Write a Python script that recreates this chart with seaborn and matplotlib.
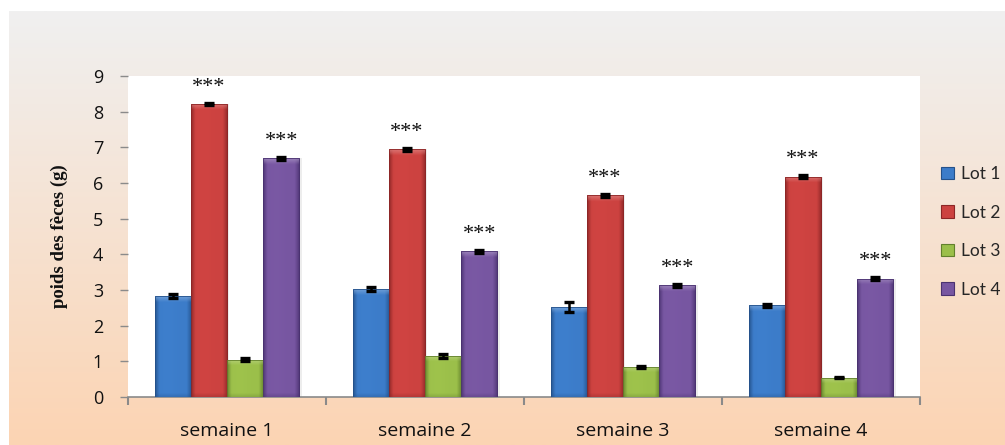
import numpy as np
import pandas as pd
import matplotlib
matplotlib.use("Agg")
import matplotlib.pyplot as plt
from matplotlib.patches import Patch, Rectangle
from matplotlib.colors import to_rgb
import seaborn as sns

# ---- data ----
weeks = ["semaine 1", "semaine 2", "semaine 3", "semaine 4"]
lots = ["Lot 1", "Lot 2", "Lot 3", "Lot 4"]
lot1 = [2.83, 3.02, 2.52, 2.57]
lot2 = [8.22, 6.94, 5.65, 6.18]
lot3 = [1.04, 1.15, 0.85, 0.54]
lot4 = [6.69, 4.08, 3.13, 3.32]
err1 = [0.05, 0.06, 0.13, 0.05]
err2 = [0.03, 0.04, 0.04, 0.05]
err3 = [0.04, 0.05, 0.03, 0.02]
err4 = [0.04, 0.04, 0.04, 0.04]
# significance marks per lot (same for every week)
signif = {"Lot 1": "", "Lot 2": "***", "Lot 3": "", "Lot 4": "***"}
yticks = list(range(0, 10))

values = [lot1, lot2, lot3, lot4]
errors = [err1, err2, err3, err4]

df = pd.DataFrame({
    "semaine": np.tile(weeks, len(lots)),
    "lot": np.repeat(lots, len(weeks)),
    "poids": np.concatenate(values),
})

mid_cols = ["#3c7cc9", "#cc4240", "#9bbf4a", "#7756a1"]
dark_cols = ["#24518a", "#8c2626", "#62802c", "#4a3270"]

sns.set_theme(style="white")
plt.rcParams["font.family"] = ["Open Sans", "DejaVu Sans"]

W, H = 1005, 445
fig = plt.figure(figsize=(W / 100, H / 100), dpi=100)
fig.patch.set_facecolor("white")

# gradient backdrop (grey at top fading to peach at bottom)
bg = fig.add_axes([9 / W, 0, 1 - 9 / W, (H - 11) / H], zorder=-10)
top = np.array(to_rgb("#f0f0f0"))
bot = np.array(to_rgb("#fcd4b3"))
t = np.linspace(0, 1, 256)[:, None]
grad = (top[None, :] * (1 - t) + bot[None, :] * t)[:, None, :]
bg.imshow(grad, aspect="auto", extent=[0, 1, 0, 1], interpolation="bilinear")
bg.set_axis_off()

L, R, T, B = 128, 920, 76, 397
ax = fig.add_axes([L / W, (H - B) / H, (R - L) / W, (B - T) / H])
ax.set_facecolor("white")

sns.barplot(data=df, x="semaine", y="poids", hue="lot", order=weeks,
            hue_order=lots, palette=mid_cols, width=0.73, errorbar=None,
            saturation=1, legend=False, ax=ax, edgecolor="none", zorder=2)

containers = list(ax.containers)
ax.set_xlim(-0.5, len(weeks) - 0.5)
ax.set_ylim(0, 9)


# shaded, bevelled bar faces
def bar_image(mid, dark, h_data, px_per_unit_y):
    nx, ny = 72, 300
    xs = np.linspace(0, 1, nx)
    # horizontal profile: darker rims, slightly brighter body
    left = np.clip(xs / 0.12, 0, 1)
    right = np.clip((1 - xs) / 0.14, 0, 1)
    prof = np.minimum(left, right) ** 0.8
    prof = prof + 0.06 * np.exp(-((xs - 0.35) / 0.25) ** 2)
    mid = np.array(to_rgb(mid))
    dark = np.array(to_rgb(dark))
    row = dark[None, :] + (mid - dark)[None, :] * prof[:, None]
    img = np.repeat(row[None, :, :], ny, axis=0)
    # top bevel lighter, bottom rim darker
    ys = np.linspace(h_data, 0, ny) * px_per_unit_y  # pixels above the base
    from_top = h_data * px_per_unit_y - ys
    light = np.clip(mid + 0.35 * (1 - mid), 0, 1)
    wtop = np.clip(1 - from_top / 6, 0, 1)[:, None, None] * 0.75
    img = img * (1 - wtop) + light[None, None, :] * wtop
    wbot = np.clip(1 - ys / 4, 0, 1)[:, None, None] * 0.35
    img = img * (1 - wbot) + dark[None, None, :] * wbot
    return np.clip(img, 0, 1)


px_per_unit = (B - T) / 9
for k, cont in enumerate(containers):
    for bar in cont:
        x0, y0 = bar.get_x(), bar.get_y()
        w, h = bar.get_width(), bar.get_height()
        # soft shadow to the right
        ax.add_patch(Rectangle((x0 + 0.012, y0), w, h, facecolor="black",
                               edgecolor="none", alpha=0.07, zorder=1))
        img = bar_image(mid_cols[k], dark_cols[k], h, px_per_unit)
        im = ax.imshow(img, extent=[x0, x0 + w, y0, y0 + h], aspect="auto",
                       zorder=3, interpolation="bilinear")
        im.set_clip_path(bar)
        bar.set_edgecolor(dark_cols[k])
        bar.set_linewidth(0.6)
        bar.set_zorder(4)
        bar.set_facecolor("none")

ax.set_xlim(-0.5, len(weeks) - 0.5)
ax.set_ylim(0, 9)
ax.set_aspect("auto")

# error bars and significance stars
for k, cont in enumerate(containers):
    xs = [b.get_x() + b.get_width() / 2 for b in cont]
    ax.errorbar(xs, values[k], yerr=errors[k], fmt="none", ecolor="black",
                elinewidth=1.8, capsize=3.6, capthick=2.4, zorder=6)
    if signif[lots[k]]:
        for x, v in zip(xs, values[k]):
            ax.annotate(signif[lots[k]], (x, v), xytext=(0, 12),
                        textcoords="offset points", ha="center", va="center",
                        fontsize=16, family=["Liberation Serif"],
                        color="#111111", zorder=7, annotation_clip=False)

# axes styling
for s in ["top", "right", "left"]:
    ax.spines[s].set_visible(False)
ax.spines["bottom"].set_color("#8a8a8a")
ax.spines["bottom"].set_linewidth(1.2)
ax.set_yticks(yticks)
ax.set_yticklabels([str(v) for v in yticks], fontsize=13, color="#111111")
ax.tick_params(axis="y", length=6, width=1, color="#8a8a8a", pad=12, left=True)
ax.set_xticks(range(len(weeks)))
ax.set_xticklabels(weeks, fontsize=14, color="#111111")
ax.set_xticks(np.arange(-0.5, len(weeks)), minor=True)
ax.tick_params(axis="x", which="major", length=0, pad=18)
ax.tick_params(axis="x", which="minor", length=6, width=1.5, color="#8a8a8a",
               bottom=True, direction="out")
ax.set_xlabel("")
ax.set_ylabel("poids des fèces (g)", family=["Liberation Serif"],
              fontweight="bold", fontsize=13.5, color="#111111", labelpad=18)

handles = [Patch(facecolor=c, edgecolor=d, linewidth=0.8)
           for c, d in zip(mid_cols, dark_cols)]
fig.legend(handles, lots, loc="upper left",
           bbox_to_anchor=(941 / W, 1 - 166 / H), frameon=False,
           handlelength=0.75, handleheight=0.75,
           handletextpad=0.4, labelspacing=1.3, borderaxespad=0,
           borderpad=0, prop={"family": ["Lato"], "size": 12.5})

fig.savefig("out.png", dpi=100, facecolor=fig.get_facecolor())
